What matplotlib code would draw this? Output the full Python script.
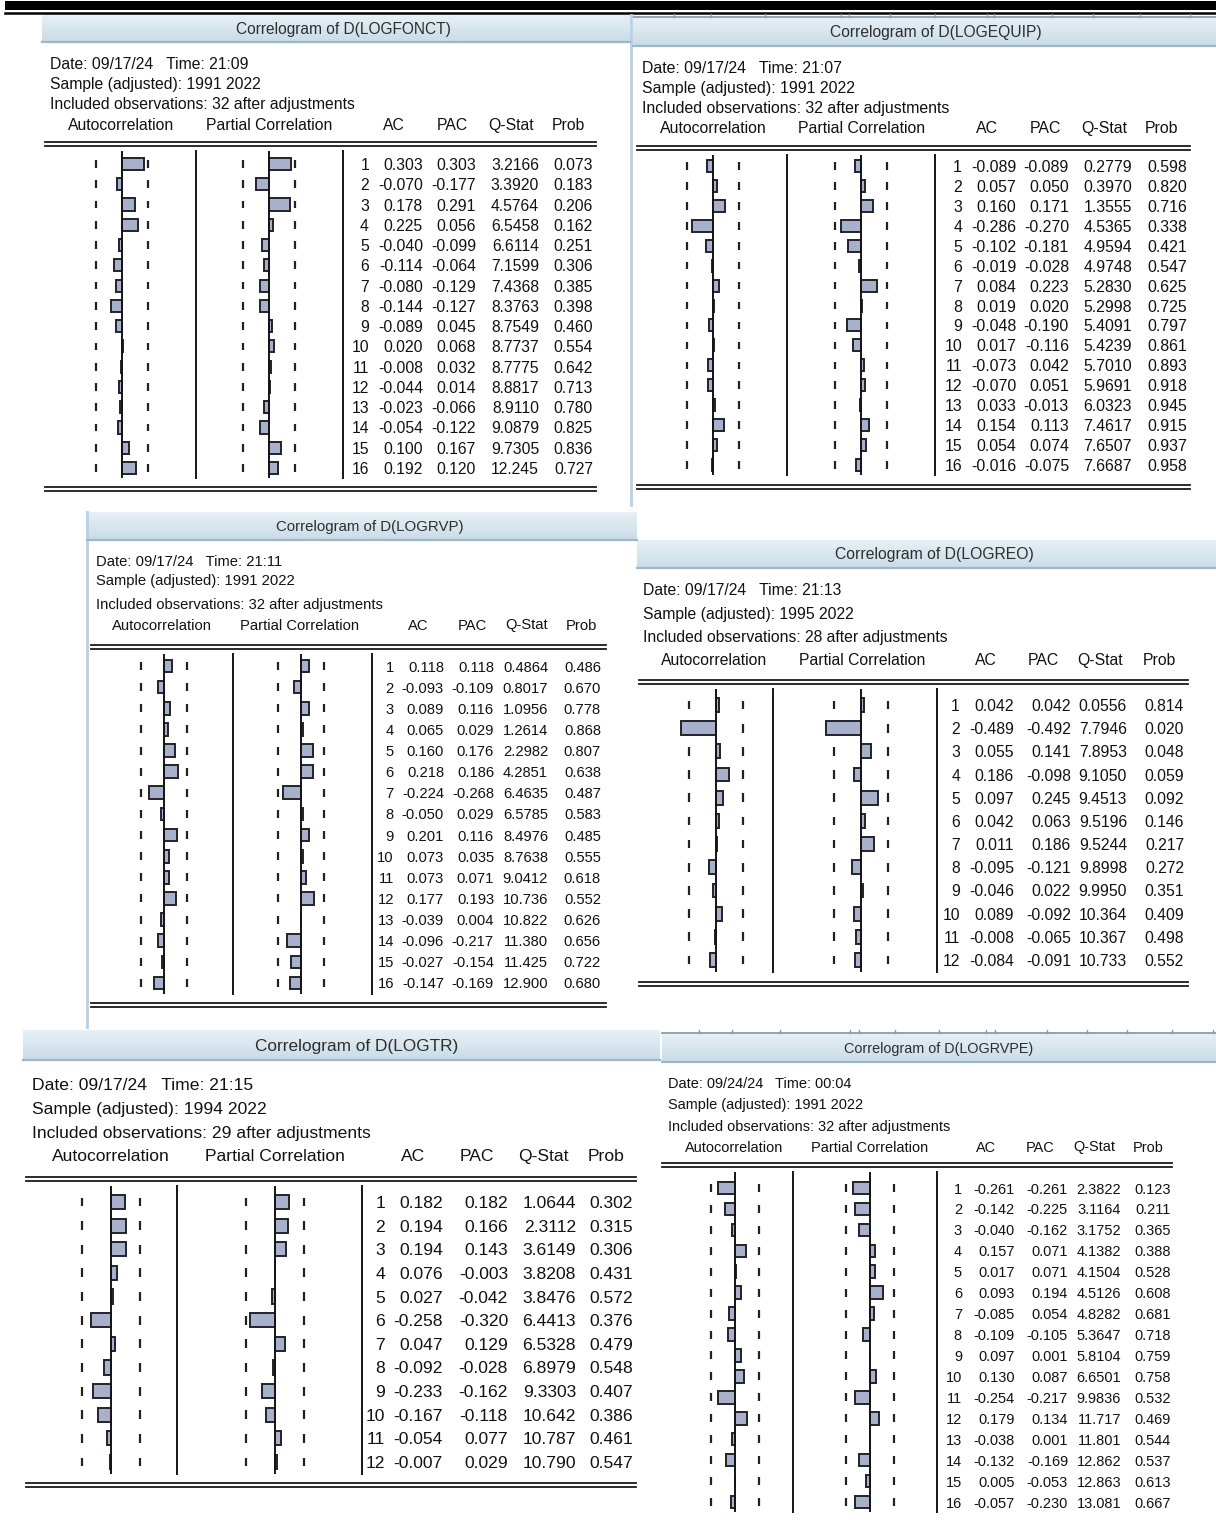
import numpy as np
import matplotlib
matplotlib.use("Agg")
import matplotlib.pyplot as plt
from matplotlib.colors import LinearSegmentedColormap

W, H = 1216, 1521
DPI = 100

# ---------------- correlogram values ----------------
fonct_ac = [0.303, -0.070, 0.178, 0.225, -0.040, -0.114, -0.080, -0.144,
            -0.089, 0.020, -0.008, -0.044, -0.023, -0.054, 0.100, 0.192]
fonct_pac = [0.303, -0.177, 0.291, 0.056, -0.099, -0.064, -0.129, -0.127,
             0.045, 0.068, 0.032, 0.014, -0.066, -0.122, 0.167, 0.120]
fonct_q = [3.2166, 3.3920, 4.5764, 6.5458, 6.6114, 7.1599, 7.4368, 8.3763,
           8.7549, 8.7737, 8.7775, 8.8817, 8.9110, 9.0879, 9.7305, 12.245]
fonct_prob = [0.073, 0.183, 0.206, 0.162, 0.251, 0.306, 0.385, 0.398,
              0.460, 0.554, 0.642, 0.713, 0.780, 0.825, 0.836, 0.727]

equip_ac = [-0.089, 0.057, 0.160, -0.286, -0.102, -0.019, 0.084, 0.019,
            -0.048, 0.017, -0.073, -0.070, 0.033, 0.154, 0.054, -0.016]
equip_pac = [-0.089, 0.050, 0.171, -0.270, -0.181, -0.028, 0.223, 0.020,
             -0.190, -0.116, 0.042, 0.051, -0.013, 0.113, 0.074, -0.075]
equip_q = [0.2779, 0.3970, 1.3555, 4.5365, 4.9594, 4.9748, 5.2830, 5.2998,
           5.4091, 5.4239, 5.7010, 5.9691, 6.0323, 7.4617, 7.6507, 7.6687]
equip_prob = [0.598, 0.820, 0.716, 0.338, 0.421, 0.547, 0.625, 0.725,
              0.797, 0.861, 0.893, 0.918, 0.945, 0.915, 0.937, 0.958]

rvp_ac = [0.118, -0.093, 0.089, 0.065, 0.160, 0.218, -0.224, -0.050,
          0.201, 0.073, 0.073, 0.177, -0.039, -0.096, -0.027, -0.147]
rvp_pac = [0.118, -0.109, 0.116, 0.029, 0.176, 0.186, -0.268, 0.029,
           0.116, 0.035, 0.071, 0.193, 0.004, -0.217, -0.154, -0.169]
rvp_q = [0.4864, 0.8017, 1.0956, 1.2614, 2.2982, 4.2851, 6.4635, 6.5785,
         8.4976, 8.7638, 9.0412, 10.736, 10.822, 11.380, 11.425, 12.900]
rvp_prob = [0.486, 0.670, 0.778, 0.868, 0.807, 0.638, 0.487, 0.583,
            0.485, 0.555, 0.618, 0.552, 0.626, 0.656, 0.722, 0.680]

reo_ac = [0.042, -0.489, 0.055, 0.186, 0.097, 0.042, 0.011, -0.095,
          -0.046, 0.089, -0.008, -0.084]
reo_pac = [0.042, -0.492, 0.141, -0.098, 0.245, 0.063, 0.186, -0.121,
           0.022, -0.092, -0.065, -0.091]
reo_q = [0.0556, 7.7946, 7.8953, 9.1050, 9.4513, 9.5196, 9.5244, 9.8998,
         9.9950, 10.364, 10.367, 10.733]
reo_prob = [0.814, 0.020, 0.048, 0.059, 0.092, 0.146, 0.217, 0.272,
            0.351, 0.409, 0.498, 0.552]

tr_ac = [0.182, 0.194, 0.194, 0.076, 0.027, -0.258, 0.047, -0.092,
         -0.233, -0.167, -0.054, -0.007]
tr_pac = [0.182, 0.166, 0.143, -0.003, -0.042, -0.320, 0.129, -0.028,
          -0.162, -0.118, 0.077, 0.029]
tr_q = [1.0644, 2.3112, 3.6149, 3.8208, 3.8476, 6.4413, 6.5328, 6.8979,
        9.3303, 10.642, 10.787, 10.790]
tr_prob = [0.302, 0.315, 0.306, 0.431, 0.572, 0.376, 0.479, 0.548,
           0.407, 0.386, 0.461, 0.547]

rvpe_ac = [-0.261, -0.142, -0.040, 0.157, 0.017, 0.093, -0.085, -0.109,
           0.097, 0.130, -0.254, 0.179, -0.038, -0.132, 0.005, -0.057]
rvpe_pac = [-0.261, -0.225, -0.162, 0.071, 0.071, 0.194, 0.054, -0.105,
            0.001, 0.087, -0.217, 0.134, 0.001, -0.169, -0.053, -0.230]
rvpe_q = [2.3822, 3.1164, 3.1752, 4.1382, 4.1504, 4.5126, 4.8282, 5.3647,
          5.8104, 6.6501, 9.9836, 11.717, 11.801, 12.862, 12.863, 13.081]
rvpe_prob = [0.123, 0.211, 0.365, 0.388, 0.528, 0.608, 0.681, 0.718,
             0.759, 0.758, 0.532, 0.469, 0.544, 0.537, 0.613, 0.667]

series_names = ["LOGFONCT", "LOGEQUIP", "LOGRVP", "LOGREO", "LOGTR", "LOGRVPE"]
run_dates = ["09/17/24", "09/17/24", "09/17/24", "09/17/24", "09/17/24", "09/24/24"]
run_times = ["21:09", "21:07", "21:11", "21:13", "21:15", "00:04"]
sample_ranges = ["1991 2022", "1991 2022", "1991 2022", "1995 2022", "1994 2022", "1991 2022"]
n_obs = [32, 32, 32, 28, 29, 32]

BAR_FACE = "#a9b0cc"
BAR_EDGE = "#22222a"
INK = "#111111"
HDR_TOP, HDR_BOT, HDR_LINE = "#e7f0f5", "#c9dce7", "#9db7c8"
TEXT_DY = 1.5


def pt(px):
    return px * 72.0 / DPI


def px_axes(fig, x0, y0, x1, y1):
    return fig.add_axes([x0 / W, 1 - y1 / H, (x1 - x0) / W, (y1 - y0) / H])


def draw_column(fig, values, nobs, zero, scale, y_first, sp, y_top, y_bot):
    """One AC or PAC bar column, in correlation units."""
    ax = px_axes(fig, zero - scale, y_top, zero + scale, y_bot)
    ax.set_xlim(-1, 1)
    ax.set_ylim((y_bot - y_first) / sp + 1, (y_top - y_first) / sp + 1)
    ax.axis("off")
    ax.patch.set_alpha(0)
    lags = np.arange(1, len(values) + 1)
    band = 2 / np.sqrt(nobs)
    for b in (-band, band):
        ax.vlines(np.full(len(lags), b), lags - 0.19, lags + 0.19,
                  color="#222222", lw=1.6)
    ax.barh(lags, values, height=0.6, left=0, color=BAR_FACE,
            edgecolor=BAR_EDGE, linewidth=1.4, zorder=2)
    ax.axvline(0, color="#151515", lw=1.4, zorder=3)
    return ax


def draw_panel(fig, bg, k, ac, pac, q, prob, L):
    fs = L["fs"]
    # title strip
    x0, x1, y0, y1 = L["hdr"]
    cmap = LinearSegmentedColormap.from_list("strip", [HDR_TOP, HDR_BOT])
    bg.imshow(np.linspace(0, 1, 64)[:, None], extent=(x0, x1, y1, y0),
              cmap=cmap, aspect="auto", zorder=1)
    bg.plot([x0, x1], [y1, y1], color=HDR_LINE, lw=1.6, zorder=2)
    bg.text((x0 + x1) / 2 + L["tdx"], (y0 + y1) / 2 + 1,
            f"Correlogram of D({series_names[k]})", ha="center", va="center",
            fontsize=pt(L["tfs"]), color="#2e2e2e", zorder=3)

    # run information
    info = [f"Date: {run_dates[k]}   Time: {run_times[k]}",
            f"Sample (adjusted): {sample_ranges[k]}",
            f"Included observations: {n_obs[k]} after adjustments"]
    for line, y in zip(info, L["info_y"]):
        bg.text(L["info_x"], y + TEXT_DY, line, ha="left", va="center",
                fontsize=pt(fs), color=INK)
    heads = ["Autocorrelation", "Partial Correlation", "AC", "PAC", "Q-Stat", "Prob"]
    for h, cx in zip(heads, L["heads_x"]):
        bg.text(cx, L["heads_y"] + TEXT_DY, h, ha="center", va="center",
                fontsize=pt(fs), color=INK)

    # double rules
    rx0, rx1 = L["rule"]
    for yy in (L["rule_top"], L["rule_bot"]):
        if yy is None:
            continue
        bg.plot([rx0, rx1], [yy, yy], color="#1a1a1a", lw=1.3)
        bg.plot([rx0, rx1], [yy + 4, yy + 4], color="#1a1a1a", lw=1.3)

    y_first, y_last = L["rows"]
    n = len(ac)
    sp = (y_last - y_first) / (n - 1)
    y_top = L["rule_top"] + 9
    y_bot = y_last + 0.5 * sp

    for sx in L["seps"]:
        bg.plot([sx, sx], [y_top, y_bot], color="#151515", lw=1.4)

    draw_column(fig, ac, n_obs[k], L["zero_ac"], L["scale"], y_first, sp, y_top, y_bot)
    draw_column(fig, pac, n_obs[k], L["zero_pac"], L["scale"], y_first, sp, y_top, y_bot)

    # numeric table
    xl, xa, xp, xq, xr = L["num_x"]
    for i in range(n):
        y = y_first + i * sp + TEXT_DY
        qs = f"{q[i]:.4f}" if q[i] < 10 else f"{q[i]:.3f}"
        for s, x in ((str(i + 1), xl), (f"{ac[i]:.3f}", xa), (f"{pac[i]:.3f}", xp),
                     (qs, xq), (f"{prob[i]:.3f}", xr)):
            bg.text(x, y, s, ha="right", va="center", fontsize=pt(fs), color=INK)


def draw_ruler(bg, x0, x1, y, marks):
    """Thin window edge with little notches above a title strip."""
    bg.plot([x0, x1], [y, y], color="#7f95a3", lw=1.2, zorder=2)
    for mx in marks:
        bg.plot([mx, mx], [y - 3, y], color="#8a9aa5", lw=1.0, zorder=2)


layouts = [
    dict(hdr=(42, 630, 15, 42), tfs=15.5, tdx=7, fs=15.8, info_x=50, info_y=(63, 83, 103),
         heads_y=124, heads_x=(121, 269, 394, 452, 511, 568),
         rule=(45, 596), rule_top=142, rule_bot=487, rows=(164, 468),
         zero_ac=122, zero_pac=269, seps=(196, 343), scale=73,
         num_x=(369, 423, 476, 539, 593)),
    dict(hdr=(633, 1216, 18, 46), tfs=15.6, tdx=11, fs=15.9, info_x=642, info_y=(67, 87, 107),
         heads_y=127, heads_x=(713, 862, 987, 1045, 1104, 1162),
         rule=(637, 1190), rule_top=146, rule_bot=485, rows=(166, 465),
         zero_ac=713, zero_pac=861, seps=(787, 935), scale=73,
         num_x=(962, 1016, 1069, 1132, 1187)),
    dict(hdr=(87, 637, 512, 540), tfs=15.0, tdx=8, fs=14.7, info_x=96, info_y=(560, 580, 603),
         heads_y=624, heads_x=(162, 300, 418, 472, 527, 581),
         rule=(91, 606), rule_top=645, rule_bot=1003, rows=(666, 983),
         zero_ac=164, zero_pac=301, seps=(233, 372), scale=66,
         num_x=(394, 444, 494, 548, 601)),
    dict(hdr=(637, 1216, 540, 568), tfs=15.7, tdx=8, fs=15.8, info_x=643, info_y=(589, 613, 636),
         heads_y=659, heads_x=(714, 862, 986, 1043, 1100, 1159),
         rule=(639, 1188), rule_top=680, rule_bot=982, rows=(705, 960),
         zero_ac=716, zero_pac=861, seps=(773, 937), scale=71,
         num_x=(960, 1014, 1071, 1127, 1184)),
    dict(hdr=(23, 660, 1030, 1060), tfs=17.3, tdx=15, fs=17.5, info_x=32, info_y=(1084, 1108, 1132),
         heads_y=1155, heads_x=(111, 275, 413, 477, 543, 606),
         rule=(26, 636), rule_top=1177, rule_bot=1483, rows=(1202, 1462),
         zero_ac=111, zero_pac=275, seps=(177, 362), scale=78,
         num_x=(385, 443, 508, 576, 633)),
    dict(hdr=(662, 1216, 1033, 1062), tfs=14.4, tdx=0, fs=14.5, info_x=668, info_y=(1083, 1104, 1125),
         heads_y=1146, heads_x=(734, 870, 986, 1040, 1094, 1148),
         rule=(662, 1172), rule_top=1163, rule_bot=None, rows=(1188, 1502),
         zero_ac=735, zero_pac=870, seps=(793, 937), scale=67,
         num_x=(962, 1015, 1068, 1121, 1171)),
]

panel_data = [
    (fonct_ac, fonct_pac, fonct_q, fonct_prob),
    (equip_ac, equip_pac, equip_q, equip_prob),
    (rvp_ac, rvp_pac, rvp_q, rvp_prob),
    (reo_ac, reo_pac, reo_q, reo_prob),
    (tr_ac, tr_pac, tr_q, tr_prob),
    (rvpe_ac, rvpe_pac, rvpe_q, rvpe_prob),
]

plt.rcParams["font.family"] = ["Liberation Sans", "DejaVu Sans"]

fig = plt.figure(figsize=(W / DPI, H / DPI), dpi=DPI, facecolor="white")
bg = fig.add_axes([0, 0, 1, 1])
bg.axis("off")

# window chrome: heavy bar across the top and the light panel borders
bg.fill_between([5, W], 1, 10, color="black", lw=0)
bg.plot([5, W], [13, 13], color="black", lw=1.8)
draw_ruler(bg, 633, W, 17, [674, 711, 765, 841, 849, 890, 935, 987, 994,
                            1052, 1093, 1140, 1190])
draw_ruler(bg, 662, W, 1033, [699, 732, 780, 850, 859, 895, 939, 986, 995,
                              1047, 1087, 1127, 1172, 1213])
bg.plot([631, 631], [15, 505], color="#b9d0e2", lw=2)
bg.plot([87, 87], [512, 1027], color="#b9d0e2", lw=2)

for k, (ac, pac, q, prob) in enumerate(panel_data):
    draw_panel(fig, bg, k, ac, pac, q, prob, layouts[k])

bg.set_xlim(0, W)
bg.set_ylim(H, 0)

fig.savefig("out.png", dpi=DPI, facecolor="white")
